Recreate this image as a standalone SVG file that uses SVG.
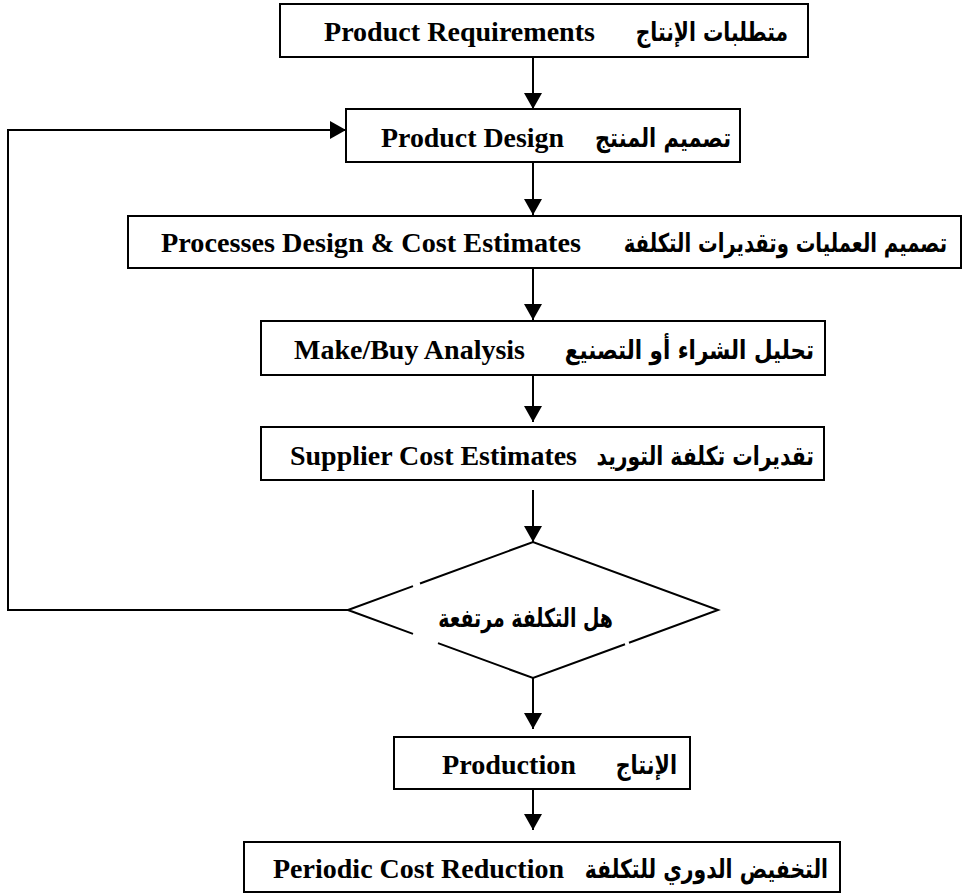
<svg xmlns="http://www.w3.org/2000/svg" width="963" height="895" viewBox="0 0 963 895">
<style>
.box{fill:#fff;stroke:#000;stroke-width:2}
.dia{fill:none;stroke:#000;stroke-width:2;stroke-linecap:butt}
.con{fill:none;stroke:#000;stroke-width:2;marker-end:url(#arr)}
.en{font-family:"Liberation Serif","Times New Roman",serif;font-weight:bold;font-size:27px;fill:#000}
.ar{font-family:"DejaVu Sans",sans-serif;font-weight:bold;font-size:26px;fill:#000;text-anchor:end}
</style>
<defs>
<marker id="arr" markerUnits="userSpaceOnUse" markerWidth="16" markerHeight="18" refX="16" refY="9" orient="auto">
<path d="M0,0 L16,9 L0,18 z" fill="#000"/>
</marker>
</defs>
<rect width="963" height="895" fill="#fff"/>
<g id="connectors">
<line class="con" x1="533" y1="57" x2="533" y2="109"/>
<line class="con" x1="533" y1="162" x2="533" y2="215"/>
<line class="con" x1="533" y1="268" x2="533" y2="320"/>
<line class="con" x1="533" y1="375" x2="533" y2="422"/>
<line class="con" x1="533" y1="490" x2="533" y2="542"/>
<line class="con" x1="533" y1="678" x2="533" y2="729"/>
<line class="con" x1="533" y1="780" x2="533" y2="830"/>
<path class="con" d="M348,610 H8 V130 H346"/>
</g>
<g id="n1">
<rect class="box" x="280" y="4" width="528" height="53"/>
<text class="en" x="324" y="41" textLength="271" lengthAdjust="spacingAndGlyphs">Product Requirements</text>
<text class="ar" transform="translate(788,41) scale(0.78,1)">متطلبات الإنتاج</text>
</g>
<g id="n2">
<rect class="box" x="346" y="109" width="394" height="53"/>
<text class="en" x="381" y="147" textLength="183" lengthAdjust="spacingAndGlyphs">Product Design</text>
<text class="ar" transform="translate(731,147) scale(0.805,1)">تصميم المنتج</text>
</g>
<g id="n3">
<rect class="box" x="128" y="216" width="833" height="52"/>
<text class="en" x="161" y="252" textLength="420" lengthAdjust="spacingAndGlyphs">Processes Design &amp; Cost Estimates</text>
<text class="ar" transform="translate(947,252) scale(0.754,1)">تصميم العمليات وتقديرات التكلفة</text>
</g>
<g id="n4">
<rect class="box" x="261" y="321" width="564" height="54"/>
<text class="en" x="294" y="359" textLength="231" lengthAdjust="spacingAndGlyphs">Make/Buy Analysis</text>
<text class="ar" transform="translate(814,359) scale(0.824,1)">تحليل الشراء أو التصنيع</text>
</g>
<g id="n5">
<rect class="box" x="261" y="427" width="563" height="53"/>
<text class="en" x="290" y="465" textLength="287" lengthAdjust="spacingAndGlyphs">Supplier Cost Estimates</text>
<text class="ar" transform="translate(814,465) scale(0.783,1)">تقديرات تكلفة التوريد</text>
</g>
<g id="decision">
<path class="dia" d="M348,610 L413,586.1 M420,583.5 L533,542 L718,610 L629,642.7 M625,644.2 L533,678 L438,643.1 M413,633.9 L348,610"/>
<text class="ar" transform="translate(613,627) scale(0.728,1)">هل التكلفة مرتفعة</text>
</g>
<g id="n6">
<rect class="box" x="394" y="737" width="296" height="52"/>
<text class="en" x="442" y="774" textLength="134" lengthAdjust="spacingAndGlyphs">Production</text>
<text class="ar" transform="translate(677,774) scale(0.795,1)">الإنتاج</text>
</g>
<g id="n7">
<rect class="box" x="244" y="842" width="596" height="50"/>
<text class="en" x="273" y="878" textLength="291" lengthAdjust="spacingAndGlyphs">Periodic Cost Reduction</text>
<text class="ar" transform="translate(828,878) scale(0.783,1)">التخفيض الدوري للتكلفة</text>
</g>
</svg>
